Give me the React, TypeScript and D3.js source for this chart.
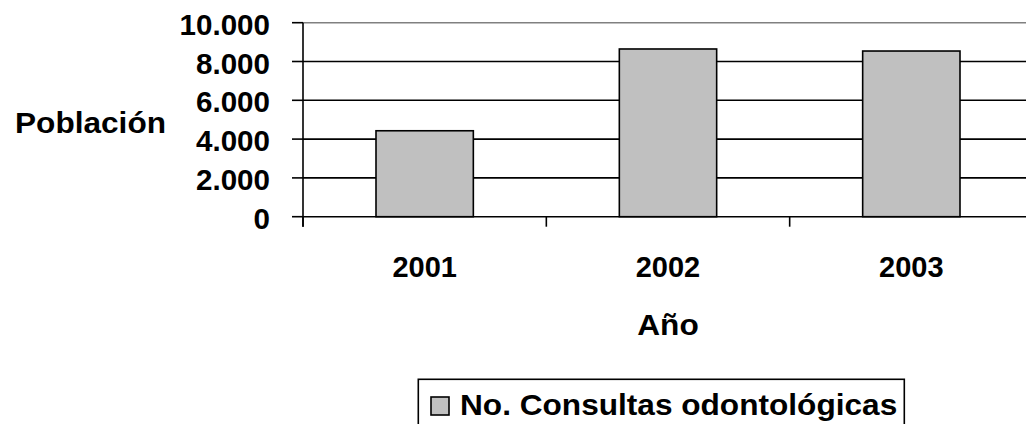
import React, { useEffect, useRef } from "react";
import * as d3 from "d3";

// data
const years = ["2001", "2002", "2003"];
const consultas = [4430, 8645, 8540];
const yTicks = [0, 2000, 4000, 6000, 8000, 10000];
const seriesName = "No. Consultas odontológicas";
const yTitle = "Población";
const xTitle = "Año";

const W = 1026;
const H = 424;
const FONT = "'Liberation Sans', Arial, sans-serif";
// the source picture was stretched a little sideways; words show it most
const STRETCH = 1.09;

const fmt = (v: number) => d3.format(",")(v).replace(/,/g, ".");

const App = () => {
  const ref = useRef<SVGSVGElement>(null);

  useEffect(() => {
    const svg = d3.select(ref.current);
    svg.selectAll("*").remove();

    const left = 303;
    const x = d3
      .scaleBand()
      .domain(years)
      .range([left, left + 730])
      .paddingInner(0.6)
      .paddingOuter(0.3);
    const y = d3.scaleLinear().domain([0, 10000]).range([216.7, 22.7]);
    const step = x.step();

    // gridlines
    svg
      .append("g")
      .selectAll("line")
      .data(yTicks.filter((t) => t > 0 && t < 10000))
      .join("line")
      .attr("x1", left)
      .attr("x2", W)
      .attr("y1", (d) => y(d))
      .attr("y2", (d) => y(d))
      .attr("stroke", "#000")
      .attr("stroke-width", 1.6);

    // plot area top border (grey)
    svg
      .append("line")
      .attr("x1", left)
      .attr("x2", W)
      .attr("y1", y(10000))
      .attr("y2", y(10000))
      .attr("stroke", "#808080")
      .attr("stroke-width", 1.6);

    // bars
    svg
      .append("g")
      .selectAll("rect")
      .data(consultas)
      .join("rect")
      .attr("x", (d, i) => x(years[i])!)
      .attr("width", x.bandwidth())
      .attr("y", (d) => y(d))
      .attr("height", (d) => y(0) - y(d))
      .attr("fill", "#c0c0c0")
      .attr("stroke", "#000")
      .attr("stroke-width", 1.6);

    // x axis line and category ticks
    svg
      .append("line")
      .attr("x1", left)
      .attr("x2", W)
      .attr("y1", y(0))
      .attr("y2", y(0))
      .attr("stroke", "#000")
      .attr("stroke-width", 1.6);
    svg
      .append("g")
      .selectAll("line")
      .data(d3.range(0, years.length + 1))
      .join("line")
      .attr("x1", (d) => left + d * step)
      .attr("x2", (d) => left + d * step)
      .attr("y1", y(0))
      .attr("y2", y(0) + 10)
      .attr("stroke", "#000")
      .attr("stroke-width", 1.6);

    // y axis line and ticks
    svg
      .append("line")
      .attr("x1", left)
      .attr("x2", left)
      .attr("y1", y(10000))
      .attr("y2", y(0) + 10)
      .attr("stroke", "#000")
      .attr("stroke-width", 1.6);
    svg
      .append("g")
      .selectAll("line")
      .data(yTicks)
      .join("line")
      .attr("x1", left - 11)
      .attr("x2", left)
      .attr("y1", (d) => y(d))
      .attr("y2", (d) => y(d))
      .attr("stroke", "#000")
      .attr("stroke-width", 1.6);

    const text = svg
      .append("g")
      .attr("font-family", FONT)
      .attr("font-weight", "bold")
      .attr("font-size", 29)
      .attr("fill", "#000");

    // y tick labels
    text
      .selectAll(".ylab")
      .data(yTicks)
      .join("text")
      .attr("class", "ylab")
      .attr("transform", (d) => `translate(270,${y(d) + 12}) scale(1.02,1)`)
      .attr("text-anchor", "end")
      .text((d) => fmt(d));

    // x tick labels
    text
      .selectAll(".xlab")
      .data(years)
      .join("text")
      .attr("class", "xlab")
      .attr("x", (d) => x(d)! + x.bandwidth() / 2)
      .attr("y", 277.3)
      .attr("text-anchor", "middle")
      .text((d) => d);

    // axis titles
    text
      .append("text")
      .attr("transform", `translate(90.5,133.3) scale(${STRETCH},1)`)
      .attr("text-anchor", "middle")
      .text(yTitle);
    text
      .append("text")
      .attr("transform", `translate(${left + (step * years.length) / 2},335) scale(${STRETCH},1)`)
      .attr("text-anchor", "middle")
      .text(xTitle);

    // legend
    const lg = svg.append("g");
    lg.append("rect")
      .attr("x", 418.3)
      .attr("y", 379.3)
      .attr("width", 486)
      .attr("height", 60)
      .attr("fill", "#fff")
      .attr("stroke", "#000")
      .attr("stroke-width", 1.6);
    lg.append("rect")
      .attr("x", 431)
      .attr("y", 397)
      .attr("width", 18)
      .attr("height", 18)
      .attr("fill", "#c0c0c0")
      .attr("stroke", "#000")
      .attr("stroke-width", 1.6);
    lg.append("text")
      .attr("transform", `translate(460,415) scale(${STRETCH},1)`)
      .attr("font-family", FONT)
      .attr("font-weight", "bold")
      .attr("font-size", 29)
      .text(seriesName);
  }, []);

  return (
    <svg
      ref={ref}
      width={W}
      height={H}
      style={{ position: "absolute", left: 0, top: 0, background: "#fff" }}
    />
  );
};

export default App;
